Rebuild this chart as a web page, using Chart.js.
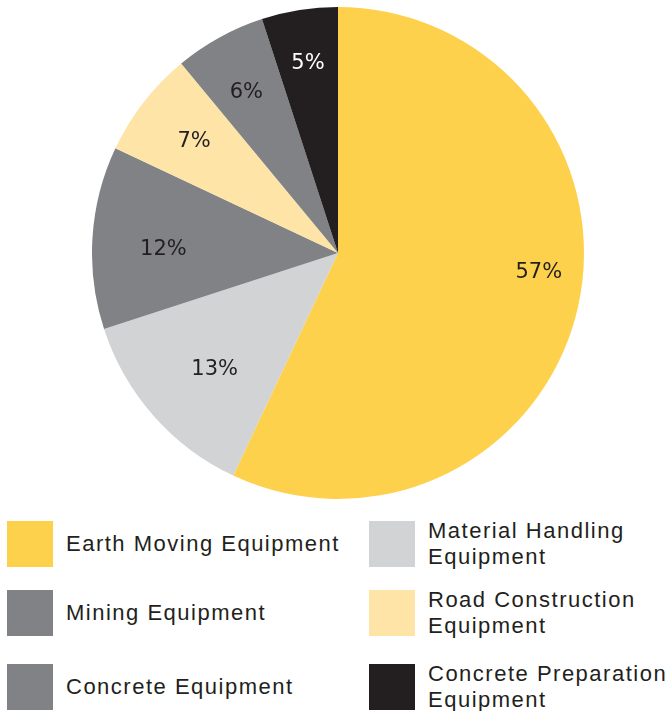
<!DOCTYPE html>
<html>
<head>
<meta charset="utf-8">
<script src="https://cdn.jsdelivr.net/npm/chart.js@4.4.0/dist/chart.umd.min.js"></script>
<style>
    html, body { margin: 0; padding: 0; background: #fff; }
    body { width: 669px; height: 711px; position: relative; overflow: hidden; }
    #pieBox { position: absolute; left: 92px; top: 7px; width: 492px; height: 492px; }
    .item { position: absolute; font-family: "Liberation Sans", Arial, sans-serif; font-size: 22px; letter-spacing: 1.5px; color: #231f20; line-height: 26px; }
    .item .box { position: absolute; left: 0; top: 0; width: 46px; height: 46px; }
    .item .txt { position: absolute; left: 59px; top: 50%; transform: translateY(-50%); white-space: nowrap; }
</style>
</head>
<body>
<div id="pieBox"><canvas id="grafico"></canvas></div>
<div id="legenda"></div>
<script>
const categorias = [
    'Earth Moving Equipment',
    'Material Handling Equipment',
    'Mining Equipment',
    'Road Construction Equipment',
    'Concrete Equipment',
    'Concrete Preparation Equipment'
];
const valores = [57, 13, 12, 7, 6, 5];
const cores = ['#fed14c', '#d1d3d4', '#808285', '#fee4a6', '#808285', '#231f20'];
const coresTexto = ['#231f20', '#231f20', '#231f20', '#231f20', '#231f20', '#ffffff'];

// legend lines (as printed)
const legendaLinhas = [
    ['Earth Moving Equipment'],
    ['Material Handling', 'Equipment'],
    ['Mining Equipment'],
    ['Road Construction', 'Equipment'],
    ['Concrete Equipment'],
    ['Concrete Preparation', 'Equipment']
];

// label placement: [fraction of radius, angle shift in degrees]
const posRotulos = [[0.82, -7], [0.69, -2], [0.71, -2.5], [0.74, 0], [0.75, -1], [0.78, 0]];

const rotulosPlugin = {
    id: 'rotulos',
    afterDatasetsDraw(chart) {
        const ctx = chart.ctx;
        const meta = chart.getDatasetMeta(0);
        ctx.save();
        ctx.font = '21px "DejaVu Sans", sans-serif';
        ctx.textAlign = 'center';
        ctx.textBaseline = 'middle';
        meta.data.forEach((arc, i) => {
            const p = arc.getProps(['x', 'y', 'startAngle', 'endAngle', 'outerRadius'], true);
            const ang = (p.startAngle + p.endAngle) / 2 + posRotulos[i][1] * Math.PI / 180;
            const r = p.outerRadius * posRotulos[i][0];
            ctx.fillStyle = coresTexto[i];
            ctx.fillText(valores[i] + '%', p.x + Math.cos(ang) * r, p.y + Math.sin(ang) * r);
        });
        ctx.restore();
    }
};

new Chart(document.getElementById('grafico').getContext('2d'), {
    type: 'pie',
    data: {
        labels: categorias,
        datasets: [{
            data: valores,
            backgroundColor: cores,
            borderWidth: 0
        }]
    },
    options: {
        responsive: true,
        maintainAspectRatio: false,
        animation: false,
        layout: { padding: 0 },
        plugins: {
            legend: { display: false },
            tooltip: { enabled: false }
        }
    },
    plugins: [rotulosPlugin]
});

// legenda em html, duas colunas
const colX = [7, 369];
const linhaY = [521, 590, 664];
const legenda = document.getElementById('legenda');
categorias.forEach((nome, k) => {
    const col = k % 2;
    const row = Math.floor(k / 2);
    const div = document.createElement('div');
    div.className = 'item';
    div.style.left = colX[col] + 'px';
    div.style.top = linhaY[row] + 'px';
    div.style.width = '300px';
    div.style.height = '46px';
    div.innerHTML = '<div class="box" style="background:' + cores[k] + '"></div>' +
        '<div class="txt">' + legendaLinhas[k].join('<br>') + '</div>';
    legenda.appendChild(div);
});
</script>
</body>
</html>
